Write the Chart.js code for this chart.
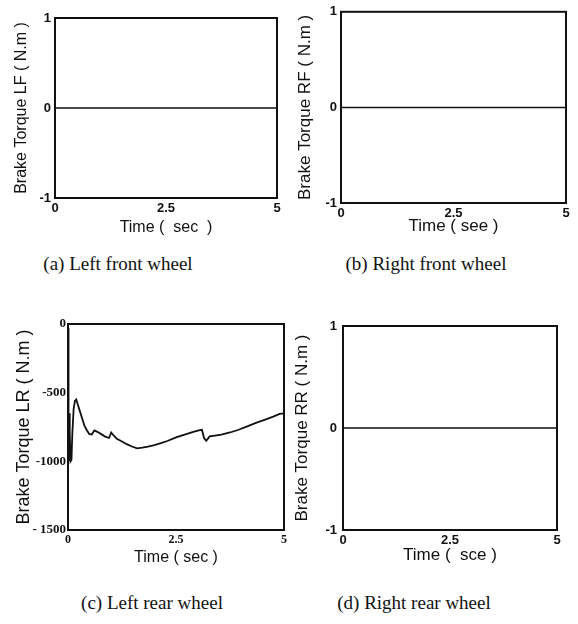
<!DOCTYPE html>
<html>
<head>
<meta charset="utf-8">
<script src="https://cdn.jsdelivr.net/npm/chart.js@4.4.1/dist/chart.umd.min.js"></script>
<style>
  html, body { margin: 0; padding: 0; background: #fff; }
  #wrap { position: relative; width: 578px; height: 624px; overflow: hidden; background: #fff; }
  canvas { position: absolute; }
  .cap { position: absolute; font-family: 'Liberation Serif', 'Times New Roman', serif; font-size: 19px; color: #111; white-space: nowrap; transform: translate(-50%, -50%); }
</style>
</head>
<body>
<div id="wrap">
  <canvas id="ca" width="290" height="245" style="left:0px;top:0px"></canvas>
  <canvas id="cb" width="288" height="245" style="left:290px;top:0px"></canvas>
  <canvas id="cc" width="290" height="270" style="left:0px;top:300px"></canvas>
  <canvas id="cd" width="288" height="270" style="left:290px;top:300px"></canvas>
  <div class="cap" style="left:118px;top:264px">(a) Left front wheel</div>
  <div class="cap" style="left:426px;top:264px">(b) Right front wheel</div>
  <div class="cap" style="left:152px;top:603px">(c) Left rear wheel</div>
  <div class="cap" style="left:414px;top:603px">(d) Right rear wheel</div>
</div>
<script>
// ---- data ----
const xTickValues = [0, 2.5, 5];
const xTickLabels = ['0', '2.5', '5'];
const unitTickValues = [-1, 0, 1];
const unitTickLabels = ['-1', '0', '1'];
const lrTickValues = [-1500, -1000, -500, 0];
const lrTickLabels = ['- 1500', '-1000', '-500', '0'];

const timeLF = [0, 5];
const torqueLF = [0, 0];
const timeRF = [0, 5];
const torqueRF = [0, 0];
const timeRR = [0, 5];
const torqueRR = [0, 0];

const timeLR = [0, 0.005, 0.012, 0.02, 0.028, 0.035, 0.045, 0.06, 0.08, 0.1, 0.13, 0.16, 0.19, 0.23, 0.28, 0.33, 0.38, 0.43, 0.49, 0.55, 0.61, 0.68, 0.76, 0.86, 0.95, 1.0, 1.05, 1.13, 1.25, 1.36, 1.48, 1.6, 1.72, 1.85, 2.0, 2.15, 2.3, 2.5, 2.7, 2.9, 3.05, 3.1, 3.15, 3.2, 3.28, 3.4, 3.55, 3.75, 3.95, 4.15, 4.35, 4.55, 4.75, 4.9, 5.0];
const torqueLR = [-30, -1000, -350, -1000, -650, -1000, -800, -1000, -990, -800, -620, -560, -550, -590, -640, -690, -740, -770, -800, -805, -775, -785, -800, -820, -830, -790, -810, -835, -855, -875, -892, -905, -900, -893, -882, -868, -852, -825, -805, -785, -772, -770, -830, -850, -818, -812, -805, -790, -770, -745, -720, -698, -675, -655, -650];

// ---- drawing ----
const frame = {
  id: 'frame',
  afterDatasetsDraw(chart) {
    const a = chart.chartArea, ctx = chart.ctx;
    ctx.save();
    ctx.strokeStyle = '#111';
    ctx.lineWidth = 2;
    ctx.strokeRect(a.left, a.top, a.right - a.left, a.bottom - a.top);
    ctx.restore();
  }
};

const SANS = "'Liberation Sans', Arial, sans-serif";
const SERIF = "'Liberation Serif', 'Times New Roman', serif";

function makeChart(id, cfg) {
  const W = cfg.W, H = cfg.H;
  const pts = cfg.t.map((t, i) => ({ x: t, y: cfg.v[i] }));
  new Chart(document.getElementById(id), {
    type: 'line',
    data: { datasets: [{ data: pts, borderColor: '#111', borderWidth: cfg.lw, pointRadius: 0, tension: 0, fill: false }] },
    options: {
      responsive: false, animation: false, devicePixelRatio: 1,
      layout: { padding: { left: 0, top: cfg.area[1], right: W - cfg.area[2], bottom: 0 } },
      plugins: { legend: { display: false }, tooltip: { enabled: false } },
      scales: {
        x: {
          type: 'linear', min: 0, max: 5,
          grid: { display: false, drawTicks: false }, border: { display: false },
          afterBuildTicks: s => { s.ticks = xTickValues.map(v => ({ value: v })); },
          afterFit: s => { s.height = H - cfg.area[3]; },
          ticks: { padding: cfg.xtp, color: '#111', font: cfg.xTickFont || cfg.tickFont, maxRotation: 0,
                   callback: v => xTickLabels[xTickValues.indexOf(v)] },
          title: { display: true, text: cfg.xTitle, color: '#111', font: cfg.xTitleFont, padding: { top: 0, bottom: cfg.xtb } }
        },
        y: {
          type: 'linear', min: cfg.ymin, max: cfg.ymax,
          grid: { display: false, drawTicks: false }, border: { display: false },
          afterBuildTicks: s => { s.ticks = cfg.yv.map(v => ({ value: v })); },
          afterFit: s => { s.width = cfg.area[0]; },
          ticks: { padding: cfg.ytp, color: '#111', font: cfg.tickFont,
                   callback: v => cfg.yl[cfg.yv.indexOf(v)] },
          title: { display: true, text: cfg.yTitle, color: '#111', font: cfg.yTitleFont, padding: { top: cfg.ytt, bottom: 0 } }
        }
      }
    },
    plugins: [frame]
  });
}

makeChart('ca', { W: 290, H: 245, area: [55, 18, 277, 198], t: timeLF, v: torqueLF, lw: 1.5,
  ymin: -1, ymax: 1, yv: unitTickValues, yl: unitTickLabels,
  tickFont: { family: SANS, size: 13, weight: 'bold' }, xtp: 3, ytp: 4,
  xTitle: 'Time (  sec  )', xTitleFont: { family: SANS, size: 16 }, xtb: 8,
  yTitle: 'Brake Torque LF ( N.m )', yTitleFont: { family: SANS, size: 16 }, ytt: 12 });

makeChart('cb', { W: 288, H: 245, area: [51, 10, 276, 203], t: timeRF, v: torqueRF, lw: 1.5,
  ymin: -1, ymax: 1, yv: unitTickValues, yl: unitTickLabels,
  tickFont: { family: SANS, size: 13, weight: 'bold' }, xtp: 3, ytp: 4,
  xTitle: 'Time ( see )', xTitleFont: { family: SANS, size: 17 }, xtb: 8,
  yTitle: 'Brake Torque RF ( N.m )', yTitleFont: { family: SANS, size: 17 }, ytt: 5 });

makeChart('cc', { W: 290, H: 270, area: [68, 24, 284, 230], t: timeLR, v: torqueLR, lw: 1.8,
  ymin: -1500, ymax: 0, yv: lrTickValues, yl: lrTickLabels,
  tickFont: { family: SERIF, size: 13, weight: 'bold' }, xTickFont: { family: SERIF, size: 12, weight: 'bold' }, xtp: 3, ytp: 2,
  xTitle: 'Time ( sec )', xTitleFont: { family: SANS, size: 16 }, xtb: 3,
  yTitle: 'Brake Torque LR ( N.m )', yTitleFont: { family: SANS, size: 18 }, ytt: 13 });

makeChart('cd', { W: 288, H: 270, area: [53, 26, 267, 230], t: timeRR, v: torqueRR, lw: 1.5,
  ymin: -1, ymax: 1, yv: unitTickValues, yl: unitTickLabels,
  tickFont: { family: SANS, size: 13, weight: 'bold' }, xtp: 3, ytp: 6,
  xTitle: 'Time (  sce )', xTitleFont: { family: SANS, size: 17 }, xtb: 4,
  yTitle: 'Brake Torque RR ( N.m )', yTitleFont: { family: SANS, size: 17 }, ytt: 2 });
</script>
</body>
</html>
